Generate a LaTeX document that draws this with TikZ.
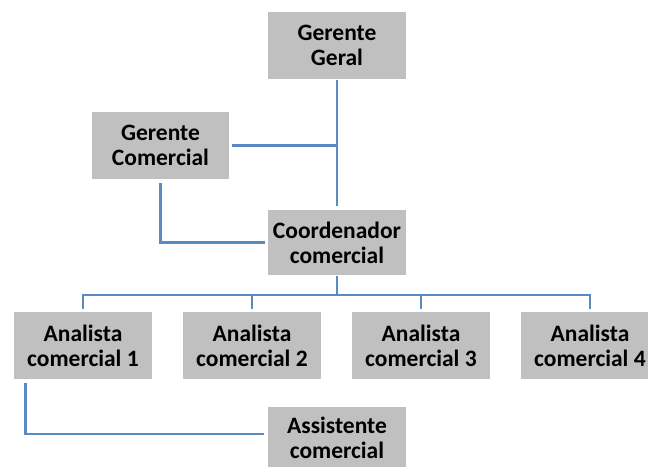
\documentclass[tikz,border=0pt]{standalone}
\usepackage{fontspec}
\setmainfont{Carlito}
\definecolor{boxgray}{HTML}{C0C0C0}
\definecolor{linkblue}{HTML}{5A8AC2}
\begin{document}
\begin{tikzpicture}[x=1pt,y=-1pt,
  unit/.style={draw=none,fill=boxgray,minimum width=138pt,minimum height=67pt,
    inner sep=0pt,align=center,font=\fontsize{23.5}{25}\selectfont\bfseries},
  link/.style={draw=linkblue,line width=2.8pt}]
\useasboundingbox (0,0) rectangle (648,466);
\clip (0,0) rectangle (648,466);
\node[unit] (geral) at (337,45) {Gerente\\Geral};
\node[unit,minimum width=137pt] (com) at (160.5,145.5) {Gerente\\Comercial};
\node[unit,minimum height=65pt] (coord) at (337,242.5) {Coordenador\\comercial};
\node[unit] (a1) at (83,345.5) {Analista\\comercial 1};
\node[unit] (a2) at (252,345.5) {Analista\\comercial 2};
\node[unit] (a3) at (421,345.5) {Analista\\comercial 3};
\node[unit] (a4) at (590,345.5) {Analista\\comercial 4};
\node[unit,minimum height=62pt] (asst) at (337,438) {Assistente\\comercial};
\coordinate (bus) at (337,295);
\coordinate (a1tap) at ([xshift=12pt]a1.south west);
\draw[link,shorten <=1pt,shorten >=4pt] (geral.south) -- (coord.north);
\draw[link,shorten <=3pt] (com.east) -- (com.east -| geral.south);
\draw[link,shorten <=4pt,shorten >=3pt] (com.south) |- (coord.west);
\draw[link,shorten <=1pt] (coord.south) -- (bus);
\draw[link,shorten <=3pt,shorten >=3pt] (a1.north) |- (bus) -| (a4.north);
\draw[link,shorten >=3pt] (bus -| a2.north) -- (a2.north);
\draw[link,shorten >=3pt] (bus -| a3.north) -- (a3.north);
\draw[link,shorten <=4pt,shorten >=4pt] (a1tap) |- ([yshift=4pt]asst.west);
\end{tikzpicture}
\end{document}
